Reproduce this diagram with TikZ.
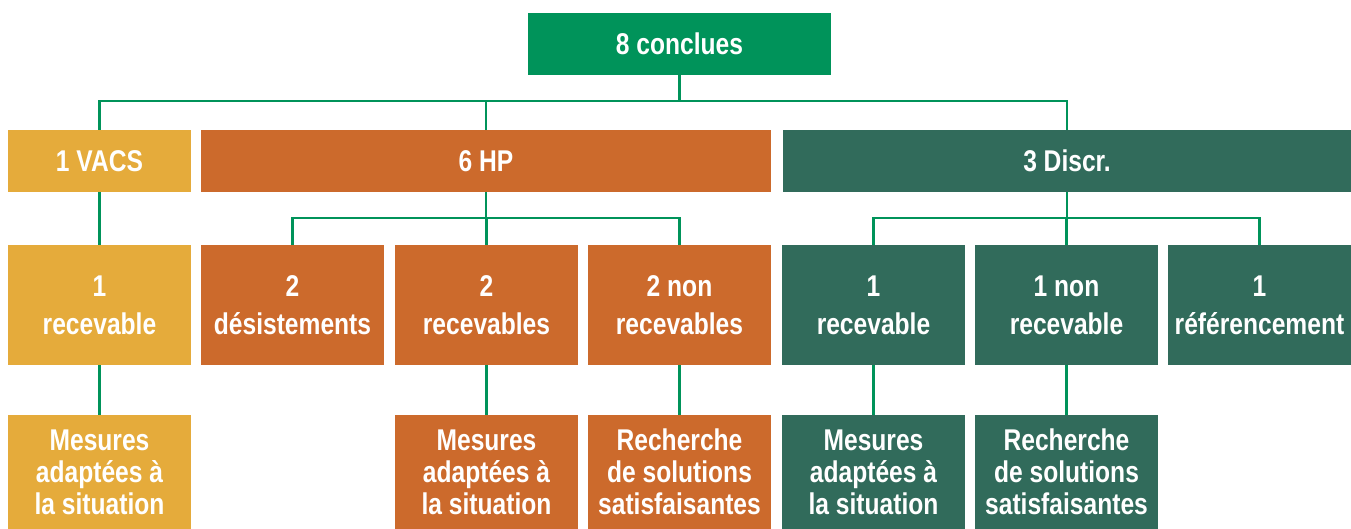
\documentclass[tikz,border=0pt]{standalone}
\usepackage{fontspec}
\newfontfamily\chartfont{Liberation Sans}[FakeStretch=0.82]
\usetikzlibrary{positioning}

\definecolor{conclGreen}{HTML}{00935A}
\definecolor{vacsYellow}{HTML}{E5AB3B}
\definecolor{hpOrange}{HTML}{CC6A2C}
\definecolor{discrGreen}{HTML}{316B5B}

\tikzset{
  box/.style={rectangle, inner sep=0pt, text=white, align=center,
    font=\chartfont\bfseries\fontsize{30}{38}\selectfont},
  head/.style={box, minimum height=62pt},
  mid/.style={box, minimum width=183pt, minimum height=120pt},
  leaf/.style={box, minimum width=183pt, minimum height=114pt,
    font=\chartfont\bfseries\fontsize{30}{32}\selectfont},
  link/.style={draw=conclGreen, line width=2.5pt},
}

\begin{document}
\begin{tikzpicture}[x=1pt, y=-1pt]
  \useasboundingbox (0,0) rectangle (1351,529);

  % top level
  \node[head, fill=conclGreen, minimum width=303pt] (concl) at (679.5,44) {8 conclues};

  % second row
  \node[head, fill=vacsYellow, minimum width=183pt] (vacs) at (99.5,161) {1 VACS};
  \node[head, fill=hpOrange, minimum width=570pt] (hp) at (486,161) {6 HP};
  \node[head, fill=discrGreen, minimum width=568pt] (discr) at (1067,161) {3 Discr.};

  % third row
  \node[mid, fill=vacsYellow] (vacsRec) at (99.5,305) {1\\recevable};
  \node[mid, fill=hpOrange] (hpDes) at (292.5,305) {2\\désistements};
  \node[mid, fill=hpOrange] (hpRec) at (486.5,305) {2\\recevables};
  \node[mid, fill=hpOrange] (hpNon) at (679.5,305) {2 non\\recevables};
  \node[mid, fill=discrGreen] (discrRec) at (873.5,305) {1\\recevable};
  \node[mid, fill=discrGreen] (discrNon) at (1066.5,305) {1 non\\recevable};
  \node[mid, fill=discrGreen] (discrRef) at (1259.5,305) {1\\référencement};

  % fourth row
  \node[leaf, fill=vacsYellow] (vacsMes) at (99.5,472) {Mesures\\adaptées à\\la situation};
  \node[leaf, fill=hpOrange] (hpMes) at (486.5,472) {Mesures\\adaptées à\\la situation};
  \node[leaf, fill=hpOrange] (hpSol) at (679.5,472) {Recherche\\de solutions\\satisfaisantes};
  \node[leaf, fill=discrGreen] (discrMes) at (873.5,472) {Mesures\\adaptées à\\la situation};
  \node[leaf, fill=discrGreen] (discrSol) at (1066.5,472) {Recherche\\de solutions\\satisfaisantes};

  % connectors
  \foreach \child in {vacs, hp, discr}
    \draw[link] (concl.south) -- ++(0,26) -| (\child.north);
  \foreach \child in {hpDes, hpRec, hpNon}
    \draw[link] (hp.south) -- ++(0,26) -| (\child.north);
  \foreach \child in {discrRec, discrNon, discrRef}
    \draw[link] (discr.south) -- ++(0,26) -| (\child.north);
  \draw[link] (vacs) -- (vacsRec);
  \draw[link] (vacsRec) -- (vacsMes);
  \draw[link] (hpRec) -- (hpMes);
  \draw[link] (hpNon) -- (hpSol);
  \draw[link] (discrRec) -- (discrMes);
  \draw[link] (discrNon) -- (discrSol);
\end{tikzpicture}
\end{document}
